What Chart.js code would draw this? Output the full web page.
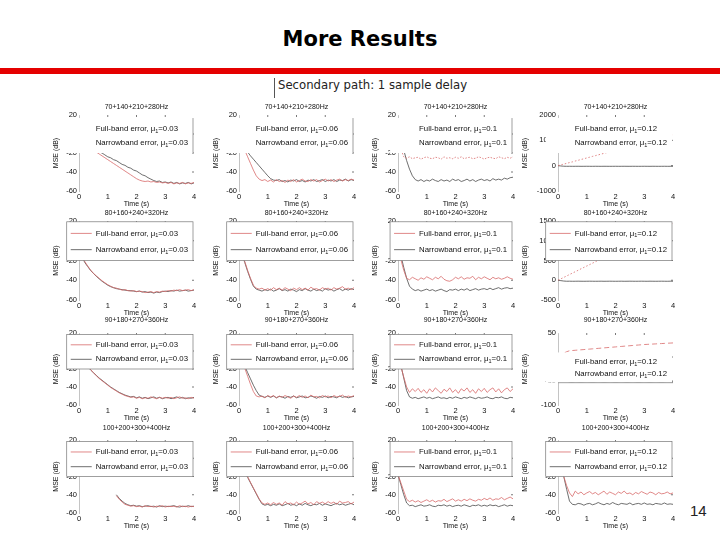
<!DOCTYPE html>
<html>
<head>
<meta charset="utf-8">
<script src="https://cdn.jsdelivr.net/npm/chart.js@4.4.1/dist/chart.umd.min.js"></script>
<style>
  body { margin: 0; background: #fff; }
  #slide { position: relative; width: 720px; height: 540px; overflow: hidden; background: #fff; }
  .title { position: absolute; left: 0; top: 27px; width: 720px; text-align: center;
           font: bold 21px "DejaVu Sans", Verdana, sans-serif; line-height: 24px; color: #000; }
  .bar { position: absolute; left: 0; top: 68px; width: 720px; height: 6px; background: #e50000; }
  .sub { position: absolute; left: 274px; top: 78px; height: 20px; line-height: 20px;
         border-left: 1px solid #555; padding-left: 3px; font: 11.7px "DejaVu Sans", sans-serif; color: #222; }
  .page { position: absolute; left: 690px; top: 503px; font: 15px "Liberation Sans", Arial, sans-serif;
          line-height: 15px; color: #222; }
  canvas { position: absolute; }
</style>
</head>
<body>
<div id="slide">
  <div class="title">More Results</div>
  <div class="bar"></div>
  <div class="sub">Secondary path: 1 sample delay</div>
  <div class="page">14</div>
</div>
<script>
// time axis (s)
const time = [0, 0.1, 0.2, 0.3, 0.4, 0.5, 0.6, 0.7, 0.8, 0.9, 1,
  1.1, 1.2, 1.3, 1.4, 1.5, 1.6, 1.7, 1.8, 1.9, 2,
  2.1, 2.2, 2.3, 2.4, 2.5, 2.6, 2.7, 2.8, 2.9, 3,
  3.1, 3.2, 3.3, 3.4, 3.5, 3.6, 3.7, 3.8, 3.9, 4];
const xTicks = [0, 1, 2, 3, 4];
const yTicksMain = [-60, -40, -20, 0, 20];
const yTicksLastCol = [[-1000, 0, 1000, 2000], [-500, 0, 500, 1000, 1500], [-100, -50, 0, 50], [-60, -40, -20, 0, 20]];
const toneSets = ['70+140+210+280Hz', '80+160+240+320Hz', '90+180+270+360Hz', '100+200+300+400Hz'];
const stepSizes = ['0.03', '0.06', '0.1', '0.12'];

// 70+140+210+280 Hz
const full70_03 = [-7, -9, -11, -13, -15, -17, -19, -21, -23, -25, -27,
  -29, -31, -33, -35, -37, -39, -41, -43, -45, -47,
  -48.5, -49.5, -50, -49.5, -50.5, -50, -51, -50.5, -51.5, -51,
  -52, -51, -52.5, -51.5, -52, -51, -52.5, -51.5, -52, -51];
const narrow70_03 = [-8, -9, -11, -12, -14, -16, -17, -19, -20, -22, -24,
  -25, -27, -28, -30, -32, -33, -35, -36, -38, -39,
  -41, -43, -44, -46, -47.5, -49, -50, -49.5, -51, -50.5,
  -51.5, -50.5, -52, -51, -52.5, -51.5, -52, -51, -52.5, -51.5];
const full70_06 = [-3, -10, -17, -24, -31, -38, -44, -47.5, -49, -48, -50,
  -48.5, -50.5, -48, -50, -49, -51, -48.5, -50, -48, -50.5,
  -49, -47.5, -49.5, -50, -48, -49.5, -48, -50.5, -49, -47.5,
  -49.5, -48, -50, -48.5, -47.5, -49.5, -48, -49, -47.5, -48.5];
const narrow70_06 = [-2, -8, -14, -19, -23, -26.5, -30, -33.5, -37, -40.5, -44,
  -47, -48.5, -49, -48, -50, -49, -50.5, -48.5, -49.5, -48,
  -50, -49, -50.5, -48.5, -49.5, -48, -50, -49, -48, -50,
  -48.5, -49.5, -48, -50, -48.5, -49, -47.5, -49.5, -48, -49];
const full70_10 = [-5, -16, -24, -25.5, -24, -26, -25, -24.5, -26.5, -25, -24,
  -25.5, -26, -24.5, -25, -26.5, -24, -25.5, -25, -26, -24.5,
  -25.5, -24, -26, -25, -24.5, -26, -25.5, -24, -25, -26.5,
  -25, -24.5, -25.5, -26, -24, -25, -26, -24.5, -25.5, -24];
const narrow70_10 = [0, -8, -17, -28, -37, -44, -48, -49.5, -48, -50, -48.5,
  -49.5, -47.5, -49, -50, -48, -49.5, -48.5, -50, -47.5, -49,
  -48, -50, -49, -47.5, -49.5, -48, -50, -48.5, -47.5, -49,
  -48, -49.5, -47, -48.5, -47.5, -48.5, -46.5, -47.5, -46, -45.5];
const full70_12 = [0, 30, 62, 90, 122, 150, 183, 212, 244, 272, 305,
  334, 366, 395, 427, 456, 488, 517, 549, 578, 610,
  640, 671, 700, 732, 761, 793, 822, 854, 883, 915,
  945, 976, 1005, 1037, 1066, 1098, 1127, 1159, 1188, 1220];
const narrow70_12 = [0, -12, -22, -25, -24, -26, -25, -24, -26, -25, -24,
  -25, -26, -24, -25, -26, -24, -25, -26, -25, -24,
  -26, -25, -24, -25, -26, -24, -25, -26, -25, -24,
  -25, -26, -24, -25, -26, -25, -24, -26, -25, -24];

// 80+160+240+320 Hz
const full80_03 = [-7, -15, -21, -25.5, -29.5, -33, -35.5, -38, -40.5, -42.5, -44.5,
  -46, -47.5, -48, -49, -50, -49.5, -50.5, -51, -50.5, -51.5,
  -51, -51.5, -52.5, -52, -51.5, -52.5, -51.5, -52, -51, -51.5,
  -50.5, -51, -50, -50.5, -49.5, -50.5, -50, -49.5, -50.5, -49.5];
const narrow80_03 = [-8, -16, -22, -26, -30, -33, -36, -38.5, -41, -43, -45,
  -46.5, -47.5, -48.5, -49, -49.5, -50, -50.5, -50.5, -51, -51.5,
  -51, -52, -51.5, -52.5, -52, -53, -52, -52.5, -51.5, -51,
  -51.5, -50.5, -51, -50, -51, -50.5, -50, -51, -50.5, -50];
const full80_06 = [-4, -13, -21, -30, -38, -45, -48, -49, -48, -50, -48.5,
  -50, -47.5, -49.5, -48, -50, -47.5, -49, -50.5, -48, -49.5,
  -47.5, -49.5, -48, -50, -47, -49, -48.5, -50, -47.5, -49,
  -48, -50, -47.5, -49, -48, -46.5, -49, -48, -49.5, -47.5];
const narrow80_06 = [-5, -14, -22, -31, -39, -46, -49, -50, -51, -49.5, -50.5,
  -49, -51, -50, -48.5, -50.5, -49.5, -51, -49, -50, -51.5,
  -49.5, -50.5, -48.5, -50, -51, -49, -50.5, -49.5, -51, -48.5,
  -50, -49, -51, -49.5, -48.5, -50.5, -49, -50, -48.5, -49.5];
const full80_10 = [-5, -19, -30, -38, -39.5, -37, -38.5, -40, -37.5, -39, -36.5,
  -38, -39.5, -37, -38.5, -36, -39, -40.5, -41, -39.5, -37,
  -38.5, -36.5, -39, -37.5, -38, -36, -39.5, -37, -38.5, -36.5,
  -38, -39.5, -37, -38.5, -37.5, -39, -38, -36.5, -38, -39];
const narrow80_10 = [-2, -15, -27, -38, -46, -49, -50.5, -49.5, -51, -50, -49,
  -50.5, -49.5, -51, -50, -49, -50.5, -51.5, -49.5, -50, -49,
  -50.5, -49, -50, -48.5, -50.5, -49.5, -48.5, -50, -49, -48.5,
  -49.5, -48, -49.5, -48.5, -47.5, -49, -48, -47.5, -48.5, -48];
const full80_12 = [0, 36, 72, 108, 145, 180, 216, 252, 290, 325, 360,
  396, 432, 470, 505, 540, 576, 612, 650, 685, 720,
  756, 792, 830, 865, 900, 936, 972, 1010, 1045, 1080,
  1116, 1152, 1190, 1225, 1260, 1296, 1332, 1370, 1405, 1440];
const narrow80_12 = [0, -10, -20, -25, -24, -26, -25, -24, -25, -26, -25,
  -24, -25, -26, -25, -24, -26, -25, -24, -25, -26,
  -25, -24, -26, -25, -24, -25, -26, -25, -24, -25,
  -26, -24, -25, -26, -25, -24, -25, -26, -24, -25];

// 90+180+270+360 Hz
const full90_03 = [-4, -8, -12.5, -16.5, -20.5, -24, -27.5, -30.5, -33, -35.5, -38,
  -40.5, -42.5, -44.5, -46.5, -48, -49.5, -50.5, -51.5, -51, -52.5,
  -51.5, -53, -52, -52.5, -51, -52, -53, -51.5, -52.5, -51.5,
  -52.5, -51.5, -53, -52, -51, -52.5, -52, -53, -51.5, -52.5];
const narrow90_03 = [-5, -9, -13, -17, -21, -24, -27, -30, -32.5, -35, -37.5,
  -40, -42, -44, -46, -47.5, -49, -50, -51, -50.5, -52,
  -51, -52.5, -51.5, -53, -52, -51, -52.5, -51.5, -53, -52,
  -51.5, -53, -52, -51, -52.5, -51.5, -53, -52, -52.5, -51.5];
const full90_06 = [0, -9, -19, -28, -37, -45, -50, -51, -50, -52, -49.5,
  -51, -49.5, -52, -50, -51.5, -49.5, -51, -52.5, -50, -51.5,
  -49.5, -51.5, -50, -52, -49, -51, -50.5, -52, -49.5, -51,
  -50, -52, -49.5, -51, -50.5, -49, -51.5, -50, -51, -49.5];
const narrow90_06 = [0, -8, -17, -24, -31, -38, -44, -49, -50.5, -51.5, -50,
  -51.5, -50, -52, -50.5, -51, -52.5, -50.5, -51.5, -50, -52,
  -51, -50, -52, -51.5, -50, -51, -52.5, -50.5, -51.5, -50,
  -52, -50.5, -51, -52, -50, -51.5, -50.5, -52, -51, -50.5];
const full90_10 = [-5, -17, -29, -40, -46, -42, -45, -41.5, -46, -43, -47,
  -42, -45.5, -41, -44, -47, -42.5, -45, -41, -46, -43,
  -47, -42, -44.5, -41, -46, -43, -47, -42, -45, -41.5,
  -46, -43, -41, -45.5, -42, -46.5, -43, -41, -45, -42];
const narrow90_10 = [-3, -16, -30, -44, -51, -52.5, -51.5, -53, -52, -51, -52.5,
  -51.5, -53, -52, -51, -52.5, -52, -53, -51.5, -52.5, -51,
  -52, -53, -51.5, -52.5, -51, -52, -53, -51.5, -52.5, -52,
  -51, -52.5, -53, -51.5, -52, -51, -52.5, -53, -51.5, -52];
const full90_12 = [0, 4, 8, 11, 13, 13.5, 14, 14.5, 15, 15.5, 16,
  16.5, 17, 17.5, 18, 18.5, 19, 19.5, 20, 20.5, 21,
  21.5, 22, 22.5, 23, 23.5, 24, 24.5, 25, 25.5, 26,
  26.3, 26.7, 27, 27.3, 27.7, 28, 28.3, 28.7, 29, 29.3];
const narrow90_12 = [0, -20, -40, -50, -52, -52.5, -51.5, -52, -52.5, -52, -51.5,
  -52, -52.5, -52, -51.5, -52, -52.5, -52, -51.5, -52, -52.5,
  -52, -51.5, -52, -52.5, -52, -51.5, -52, -52.5, -52, -51.5,
  -52, -52.5, -52, -51.5, -52, -52.5, -52, -51.5, -52, -52];

// 100+200+300+400 Hz
const full100_03 = [null, null, null, null, null, null, null, null, null, null, null,
  null, null, -41, -45, -48, -50.5, -51.5, -52.5, -52, -53,
  -52.5, -53.5, -52, -53, -52.5, -53.5, -52.5, -53, -52, -53.5,
  -52.5, -53, -52.5, -53.5, -52, -53, -52.5, -53.5, -52.5, -53];
const narrow100_03 = [null, null, null, null, null, null, null, null, null, null, null,
  null, null, -40, -44, -47, -49.5, -51, -52, -51.5, -52.5,
  -52, -53, -52.5, -52, -53, -52.5, -53.5, -52, -53, -52.5,
  -53, -52.5, -52, -53, -53.5, -52.5, -53, -52, -53, -52.5];
const full100_06 = [-2, -8, -14, -20, -26.5, -32.5, -38.5, -44.5, -49, -50.5, -49,
  -51, -48.5, -50.5, -49, -51.5, -47.5, -50, -49, -51, -48,
  -50.5, -49, -47, -50, -48.5, -51, -47.5, -49.5, -48, -50,
  -47.5, -49.5, -48, -50.5, -47, -49, -48.5, -47.5, -50, -48];
const narrow100_06 = [-3, -9, -15, -21, -27, -33, -39, -45, -50, -51.5, -50.5,
  -52, -50.5, -51.5, -50, -52, -51, -49.5, -51.5, -50.5, -52,
  -50, -51.5, -49.5, -51, -52, -50.5, -51, -49.5, -51.5, -50,
  -51, -52, -50.5, -49.5, -51, -50, -51.5, -50.5, -49.5, -51];
const full100_10 = [-18, -27, -36, -45, -47.5, -46, -48, -46.5, -48.5, -47, -45.5,
  -47.5, -46, -48, -46.5, -47, -45, -47.5, -46, -44.5, -47,
  -45.5, -47, -45, -46.5, -44.5, -46, -47, -45, -46, -44,
  -45.5, -43.5, -46, -44.5, -45, -43, -45.5, -44, -42.5, -44.5];
const narrow100_10 = [-18, -29, -40, -49, -52, -51.5, -53, -52, -51, -52.5, -52,
  -51, -52.5, -53, -51.5, -52, -51, -52.5, -51.5, -53, -52,
  -51.5, -52.5, -51, -52, -53, -51.5, -52, -51, -52.5, -51.5,
  -52.5, -51, -52, -51.5, -53, -52, -51, -52.5, -51.5, -52];
const full100_12 = [-5, -12, -20, -30, -38, -42, -36, -39, -37, -40, -38,
  -36.5, -39, -37.5, -40, -38, -36, -39.5, -37, -38.5, -40,
  -37, -38.5, -36, -39, -38, -40, -37.5, -39, -36.5, -38,
  -39.5, -37, -38, -40, -37.5, -39, -38.5, -37, -39, -38];
const narrow100_12 = [-5, -12, -20, -34, -47, -50.5, -51, -49.5, -50, -51.5, -50,
  -49.5, -51, -50, -48.5, -50, -51, -49.5, -50.5, -48.5, -50,
  -51, -49.5, -50, -50.5, -49, -51, -50, -49.5, -50.5, -49,
  -50.5, -50, -51, -49.5, -50, -50.5, -49, -50.5, -50, -50.5];

const fullBand = [
  [full70_03, full70_06, full70_10, full70_12],
  [full80_03, full80_06, full80_10, full80_12],
  [full90_03, full90_06, full90_10, full90_12],
  [full100_03, full100_06, full100_10, full100_12]
];
const narrowBand = [
  [narrow70_03, narrow70_06, narrow70_10, narrow70_12],
  [narrow80_03, narrow80_06, narrow80_10, narrow80_12],
  [narrow90_03, narrow90_06, narrow90_10, narrow90_12],
  [narrow100_03, narrow100_06, narrow100_10, narrow100_12]
];

// layout of the 4x4 panel grid (plot area positions in px)
const colX = [79, 239, 398, 558];
const colW = 115;
const rowTop = [115, 221, 333, 440];
const rowH = [76, 79, 72, 73];
const yAxisW = [30, 30, 30, 40];
const titleGap = [7.5, 8, 12.5, 12];
// legend box: [top fraction, bottom fraction, style]
// R = right edge only, N = no frame, F = full frame with line samples, B = bottom edge only
const legendBox = [
  [[0.04, 0.5, 'R'], [0.04, 0.5, 'R'], [0.04, 0.5, 'R'], [0.04, 0.5, 'N']],
  [[0.01, 0.5, 'F'], [0.01, 0.5, 'F'], [0.01, 0.5, 'F'], [0.01, 0.5, 'F']],
  [[0.02, 0.5, 'F'], [0.02, 0.5, 'F'], [0.02, 0.5, 'F'], [0.27, 0.69, 'B']],
  [[0.02, 0.5, 'F'], [0.02, 0.5, 'F'], [0.02, 0.5, 'F'], [0.02, 0.5, 'F']]
];
const redDash = [
  [[], [], [1.5, 1.5], [1.5, 2]],
  [[], [], [], [1.5, 2]],
  [[], [], [], [5, 3]],
  [[], [], [], []]
];
const RED = '#d86a6a';
const GRAY = '#4a4a4a';
const FONT = '"Liberation Sans", Arial, sans-serif';

Chart.defaults.font.family = FONT;
Chart.defaults.color = '#111';

function muLabel(ctx, x, y, name, mu, draw) {
  ctx.font = '7.8px ' + FONT;
  const head = name + ', \u03bc';
  let w = ctx.measureText(head).width;
  if (draw) ctx.fillText(head, x, y);
  ctx.font = '5.5px ' + FONT;
  if (draw) ctx.fillText('1', x + w, y + 2.5);
  w += ctx.measureText('1').width;
  ctx.font = '7.8px ' + FONT;
  if (draw) ctx.fillText('=' + mu, x + w, y);
  return w + ctx.measureText('=' + mu).width;
}

function seg(ctx, x1, y1, x2, y2) {
  ctx.beginPath();
  ctx.moveTo(x1, y1);
  ctx.lineTo(x2, y2);
  ctx.stroke();
}

const panelDecor = {
  id: 'panelDecor',
  afterDatasetsDraw(chart, args, opts) {
    const { ctx, chartArea: a } = chart;
    const { r, c } = opts;
    const box = legendBox[r][c];
    const mu = stepSizes[c];
    ctx.save();
    // little box ticks on top and right edges
    ctx.strokeStyle = '#555';
    ctx.lineWidth = 0.8;
    xTicks.slice(1, -1).forEach(v => {
      const px = chart.scales.x.getPixelForValue(v);
      seg(ctx, px, a.top, px, a.top + 2);
    });
    chart.scales.y.ticks.slice(1, -1).forEach(t => {
      const py = chart.scales.y.getPixelForValue(t.value);
      seg(ctx, a.right - 2, py, a.right, py);
    });
    // legend, right aligned inside the panel
    ctx.textBaseline = 'middle';
    const w = muLabel(ctx, 0, 0, 'Narrowband error', mu, false);
    const tx = a.right - 6 - w;
    const bx = tx - 29;
    const y1 = a.top + a.height * box[0];
    const y2 = a.top + a.height * box[1];
    ctx.fillStyle = '#fff';
    ctx.fillRect(bx, y1, a.right - 1 - bx, y2 - y1);
    ctx.strokeStyle = '#777';
    ctx.lineWidth = 0.7;
    if (box[2] === 'F') ctx.strokeRect(bx, y1, a.right - 1 - bx, y2 - y1);
    if (box[2] === 'R') seg(ctx, a.right - 1, y1, a.right - 1, y2);
    if (box[2] === 'B') seg(ctx, a.left, y2, a.right, y2);
    const ly1 = y1 + (y2 - y1) * 0.3;
    const ly2 = y1 + (y2 - y1) * 0.72;
    if (box[2] === 'F') {
      ctx.lineWidth = 0.8;
      ctx.strokeStyle = RED;
      seg(ctx, tx - 25, ly1, tx - 4, ly1);
      ctx.strokeStyle = GRAY;
      seg(ctx, tx - 25, ly2, tx - 4, ly2);
    }
    ctx.fillStyle = '#111';
    muLabel(ctx, tx, ly1, 'Full-band error', mu, true);
    muLabel(ctx, tx, ly2, 'Narrowband error', mu, true);
    ctx.restore();
  },
  afterDraw(chart, args, opts) {
    const { ctx, chartArea: a } = chart;
    ctx.save();
    ctx.font = '7px ' + FONT;
    ctx.fillStyle = '#111';
    ctx.textAlign = 'center';
    ctx.textBaseline = 'middle';
    ctx.fillText(toneSets[opts.r], (a.left + a.right) / 2, a.top - titleGap[opts.r]);
    ctx.restore();
  }
};

const slide = document.getElementById('slide');
for (let r = 0; r < 4; r++) {
  for (let c = 0; c < 4; c++) {
    const yw = yAxisW[c];
    const canvas = document.createElement('canvas');
    canvas.width = yw + colW + 6;
    canvas.height = 18 + rowH[r] + 22;
    canvas.style.left = (colX[c] - yw) + 'px';
    canvas.style.top = (rowTop[r] - 18) + 'px';
    slide.appendChild(canvas);

    const yTicks = c === 3 ? yTicksLastCol[r] : yTicksMain;
    const tickFont = { size: 7.5, family: FONT };
    const labelFont = { size: 7, family: FONT };

    new Chart(canvas, {
      type: 'line',
      data: {
        labels: time,
        datasets: [
          { data: fullBand[r][c], borderColor: RED, borderWidth: 0.8, borderDash: redDash[r][c] },
          { data: narrowBand[r][c], borderColor: GRAY, borderWidth: 0.8 }
        ]
      },
      options: {
        responsive: false,
        animation: false,
        layout: { padding: { top: 18, right: 6, left: 0, bottom: 0 } },
        elements: { point: { radius: 0 }, line: { tension: 0 } },
        plugins: {
          legend: { display: false },
          tooltip: { enabled: false },
          title: { display: false },
          panelDecor: { r, c }
        },
        scales: {
          x: {
            type: 'linear',
            min: 0,
            max: 4,
            afterBuildTicks: s => { s.ticks = xTicks.map(v => ({ value: v })); },
            afterFit: s => { s.height = 22; },
            grid: { display: false, drawTicks: false },
            border: { display: false },
            ticks: { font: tickFont, color: '#111', padding: 1, maxRotation: 0, autoSkip: false,
                     callback: v => String(v) },
            title: { display: true, text: 'Time (s)', font: labelFont, color: '#111', padding: { top: 0, bottom: 4.5 } }
          },
          y: {
            min: yTicks[0],
            max: yTicks[yTicks.length - 1],
            afterBuildTicks: s => { s.ticks = yTicks.map(v => ({ value: v })); },
            afterFit: s => { s.width = yw; },
            grid: { display: false, drawTicks: false },
            border: { display: true, color: '#aaa', width: 0.7 },
            ticks: { font: tickFont, color: '#111', padding: 2, autoSkip: false,
                     callback: v => String(v) },
            title: { display: true, text: 'MSE (dB)', font: labelFont, color: '#111', padding: { top: 3, bottom: 0 } }
          }
        }
      },
      plugins: [panelDecor]
    });
  }
}
</script>
</body>
</html>
